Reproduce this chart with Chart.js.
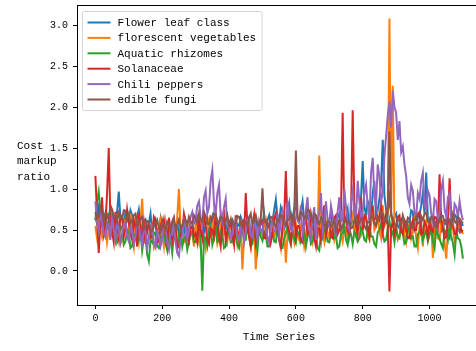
<!DOCTYPE html>
<html>
<head>
<meta charset="utf-8">
<style>
	html, body { margin: 0; padding: 0; overflow: hidden; background: #fff; }
	#wrap { position: relative; width: 482px; height: 351px; }
</style>
<script src="https://cdn.jsdelivr.net/npm/chart.js@4/dist/chart.umd.min.js"></script>
</head>
<body>
<div id="wrap"><canvas id="myChart" width="482" height="351"></canvas></div>
<script>
'use strict';

// time index, one sample every 5 steps
const timeSeries = Array.from({ length: 221 }, (_, i) => i * 5);

const xTickValues = [0, 200, 400, 600, 800, 1000];
const yTickValues = [0, 0.5, 1, 1.5, 2, 2.5, 3];

const seriesNames = [
	'Flower leaf class',
	'florescent vegetables',
	'Aquatic rhizomes',
	'Solanaceae',
	'Chili peppers',
	'edible fungi',
];

// one row = 100 time steps
const flowerLeaf = [
	0.65, 0.58, 0.78, 0.70, 0.55, 0.63, 0.70, 0.52, 0.62, 0.80, 0.74, 0.60, 0.58, 0.72, 0.97, 0.64, 0.66, 0.55, 0.72, 0.68,
	0.60, 0.74, 0.68, 0.50, 0.55, 0.66, 0.75, 0.57, 0.50, 0.61, 0.63, 0.48, 0.58, 0.70, 0.46, 0.55, 0.62, 0.44, 0.52, 0.64,
	0.48, 0.58, 0.57, 0.43, 0.44, 0.53, 0.60, 0.47, 0.50, 0.62, 0.41, 0.52, 0.55, 0.45, 0.62, 0.54, 0.47, 0.60, 0.58, 0.49,
	0.52, 0.63, 0.45, 0.55, 0.61, 0.47, 0.56, 0.64, 0.48, 0.57, 0.66, 0.51, 0.53, 0.42, 0.59, 0.68, 0.44, 0.56, 0.57, 0.50,
	0.50, 0.58, 0.62, 0.44, 0.46, 0.57, 0.55, 0.66, 0.60, 0.49, 0.42, 0.56, 0.58, 0.45, 0.51, 0.63, 0.64, 0.52, 0.48, 0.60,
	0.56, 0.70, 0.53, 0.62, 0.68, 0.57, 0.61, 0.74, 0.87, 0.65, 0.60, 0.78, 0.72, 0.58, 0.55, 0.69, 0.82, 0.60, 0.66, 0.75,
	0.78, 0.64, 0.62, 0.73, 0.85, 0.60, 0.58, 0.67, 0.70, 0.55, 0.52, 0.63, 0.66, 0.50, 0.45, 0.58, 0.60, 0.68, 0.50, 0.57,
	0.63, 0.72, 0.47, 0.55, 0.58, 0.66, 0.70, 0.52, 0.52, 0.61, 0.65, 0.75, 0.44, 0.58, 0.60, 0.83, 0.55, 0.67, 0.72, 0.90,
	1.34, 0.78, 0.68, 0.85, 0.80, 0.66, 0.95, 1.10, 0.62, 0.75, 0.88, 1.05, 1.60, 0.92, 0.75, 0.68, 0.90, 0.72, 0.58, 0.66,
	0.70, 0.55, 0.52, 0.63, 0.65, 0.58, 0.48, 0.60, 0.60, 0.74, 0.72, 0.50, 0.55, 0.66, 0.68, 0.80, 0.95, 0.70, 1.20, 0.64,
	0.62, 0.53, 0.45, 0.60, 0.58, 0.67, 0.70, 0.48, 0.50, 0.62, 0.63, 0.44, 0.40, 0.58, 0.56, 0.69, 0.66, 0.52, 0.48, 0.60,
	0.55,
];

const florescent = [
	0.55, 0.40, 0.68, 0.52, 0.42, 0.60, 0.60, 0.35, 0.50, 0.66, 0.72, 0.48, 0.45, 0.62, 0.58, 0.33, 0.38, 0.55, 0.63, 0.46,
	0.52, 0.70, 0.44, 0.30, 0.66, 0.50, 0.35, 0.58, 0.88, 0.45, 0.48, 0.36, 0.40, 0.55, 0.57, 0.28, 0.32, 0.47, 0.50, 0.62,
	0.45, 0.30, 0.60, 0.48, 0.28, 0.55, 0.52, 0.40, 0.42, 0.66, 1.00, 0.50, 0.55, 0.35, 0.38, 0.58, 0.62, 0.43, 0.46, 0.30,
	0.58, 0.45, 0.35, 0.60, 0.50, 0.38, 0.27, 0.52, 0.62, 0.42, 0.44, 0.70, 0.55, 0.33, 0.40, 0.56, 0.65, 0.45, 0.48, 0.36,
	0.52, 0.60, 0.38, 0.47, 0.60, 0.33, 0.45, 0.55, 0.02, 0.42, 0.56, 0.62, 0.42, 0.30, 0.50, 0.58, 0.02, 0.40, 0.58, 0.47,
	0.44, 0.55, 0.62, 0.36, 0.35, 0.50, 0.55, 0.42, 0.48, 0.63, 0.40, 0.28, 0.60, 0.50, 0.10, 0.45, 0.52, 0.62, 0.45, 0.35,
	0.58, 0.46, 0.38, 0.55, 0.50, 0.30, 0.42, 0.57, 0.62, 0.44, 0.35, 0.52, 0.55, 0.40, 1.41, 0.50, 0.46, 0.36, 0.60, 0.48,
	0.40, 0.58, 0.55, 0.38, 0.48, 0.62, 0.62, 0.45, 0.36, 0.54, 0.52, 0.40, 0.45, 0.66, 0.70, 0.48, 0.42, 0.60, 0.58, 0.44,
	0.50, 0.62, 0.65, 0.42, 0.38, 0.58, 0.72, 0.50, 0.55, 0.68, 0.48, 0.40, 0.80, 0.55, 0.60, 0.72, 3.08, 0.65, 2.26, 0.52,
	0.55, 0.38, 0.42, 0.60, 0.62, 0.45, 0.35, 0.52, 0.58, 0.40, 0.48, 0.63, 0.40, 0.28, 0.55, 0.47, 0.30, 0.58, 0.62, 0.42,
	0.45, 0.56, 0.16, 0.48, 0.55, 0.40, 0.38, 0.62, 0.60, 0.35, 0.15, 0.50, 0.48, 0.57, 0.52, 0.36, 0.40, 0.55, 0.58, 0.50,
	0.45,
];

const aquatic = [
	0.62, 0.85, 0.97, 0.72, 0.80, 0.50, 0.55, 0.70, 0.68, 0.42, 0.45, 0.60, 0.58, 0.35, 0.40, 0.55, 0.52, 0.32, 0.36, 0.50,
	0.48, 0.28, 0.30, 0.45, 0.44, 0.33, 0.38, 0.50, 0.25, 0.40, 0.42, 0.20, 0.12, 0.38, 0.35, 0.47, 0.46, 0.30, 0.28, 0.42,
	0.40, 0.50, 0.33, 0.25, 0.50, 0.38, 0.22, 0.45, 0.38, 0.30, 0.45, 0.52, 0.30, 0.40, 0.42, 0.26, 0.36, 0.48, 0.48, 0.35,
	0.35, 0.45, 0.52, 0.38, -0.24, 0.42, 0.40, 0.30, 0.46, 0.55, 0.32, 0.40, 0.55, 0.36, 0.38, 0.48, 0.44, 0.28, 0.30, 0.45,
	0.48, 0.35, 0.36, 0.50, 0.42, 0.32, 0.28, 0.45, 0.50, 0.38, 0.38, 0.55, 0.45, 0.30, 0.33, 0.48, 0.40, 0.25, 0.52, 0.42,
	0.37, 0.48, 0.44, 0.30, 0.30, 0.45, 0.48, 0.36, 0.35, 0.52, 0.42, 0.28, 0.28, 0.40, 0.46, 0.55, 0.38, 0.32, 0.50, 0.40,
	0.34, 0.48, 0.45, 0.35, 0.40, 0.52, 0.30, 0.42, 0.48, 0.33, 0.36, 0.50, 0.43, 0.28, 0.25, 0.45, 0.40, 0.52, 0.47, 0.36,
	0.35, 0.46, 0.50, 0.40, 0.42, 0.28, 0.30, 0.45, 0.46, 0.55, 0.38, 0.32, 0.52, 0.44, 0.33, 0.48, 0.44, 0.36, 0.40, 0.53,
	0.48, 0.38, 0.36, 0.50, 0.55, 0.42, 0.42, 0.33, 0.30, 0.47, 0.50, 0.58, 0.45, 0.36, 0.38, 0.52, 0.62, 0.44, 0.48, 0.35,
	0.52, 0.42, 0.40, 0.55, 0.46, 0.33, 0.35, 0.48, 0.55, 0.40, 0.42, 0.30, 0.30, 0.45, 0.48, 0.58, 0.38, 0.44, 0.50, 0.36,
	0.44, 0.52, 0.36, 0.28, 0.52, 0.45, 0.40, 0.33, 0.28, 0.50, 0.46, 0.38, 0.55, 0.42, 0.34, 0.20, 0.48, 0.40, 0.38, 0.30,
	0.15,
];

const solanaceae = [
	1.16, 0.70, 0.22, 0.60, 0.90, 0.45, 0.55, 0.95, 1.50, 0.62, 0.48, 0.35, 0.72, 0.55, 0.40, 0.68, 0.65, 0.42, 0.52, 0.75,
	0.60, 0.45, 0.38, 0.62, 0.55, 0.30, 0.70, 0.48, 0.45, 0.58, 0.33, 0.52, 0.58, 0.40, 0.42, 0.66, 0.62, 0.35, 0.36, 0.55,
	0.50, 0.62, 0.44, 0.33, 0.65, 0.50, 0.38, 0.58, 0.55, 0.28, 0.30, 0.45, 0.48, 0.70, 0.60, 0.40, 0.35, 0.55, 0.52, 0.42,
	0.46, 0.35, 0.62, 0.50, 0.40, 0.68, 0.55, 0.38, 0.33, 0.52, 0.50, 0.42, 0.70, 0.55, 0.42, 0.30, 0.58, 0.75, 0.37, 0.48,
	0.53, 0.62, 0.45, 0.32, 0.68, 0.50, 0.38, 0.58, 0.60, 0.42, 0.95, 0.55, 0.42, 0.30, 0.55, 0.68, 0.35, 0.48, 0.50, 0.62,
	0.62, 0.40, 0.40, 0.55, 0.56, 0.35, 0.45, 0.63, 0.70, 0.48, 0.38, 0.30, 0.52, 0.66, 1.22, 0.55, 0.48, 0.36, 0.60, 0.72,
	0.42, 0.55, 0.55, 0.38, 0.35, 0.60, 0.62, 0.45, 0.48, 0.70, 0.58, 0.40, 0.30, 0.52, 0.52, 0.38, 0.65, 0.80, 0.44, 0.56,
	0.56, 0.42, 0.40, 0.65, 0.68, 0.45, 0.50, 0.75, 1.93, 0.60, 0.62, 0.48, 0.45, 0.70, 1.96, 0.82, 0.58, 0.45, 0.72, 0.90,
	0.50, 0.68, 0.65, 0.52, 0.42, 0.75, 0.78, 0.58, 0.55, 0.66, 0.62, 0.85, 0.48, 0.60, 0.70, 0.55, -0.25, 0.52, 0.60, 0.45,
	0.52, 0.66, 0.68, 0.48, 0.45, 0.62, 0.58, 0.40, 0.40, 0.55, 0.62, 0.50, 0.50, 0.70, 0.72, 0.45, 0.46, 0.60, 0.55, 0.42,
	0.60, 0.50, 0.48, 0.66, 0.65, 0.55, 1.18, 0.62, 0.52, 0.40, 0.42, 0.58, 1.13, 0.65, 0.58, 0.45, 0.45, 0.60, 0.62, 0.48,
	0.50,
];

const chiliPeppers = [
	0.85, 0.60, 0.48, 0.70, 0.62, 0.45, 0.41, 0.58, 0.55, 0.38, 0.70, 0.50, 0.38, 0.62, 0.52, 0.35, 0.45, 0.57, 0.60, 0.42,
	0.36, 0.55, 0.50, 0.32, 0.42, 0.60, 0.58, 0.40, 0.33, 0.52, 0.47, 0.28, 0.40, 0.56, 0.55, 0.35, 0.29, 0.48, 0.44, 0.30,
	0.38, 0.55, 0.51, 0.35, 0.26, 0.48, 0.45, 0.60, 0.35, 0.22, 0.18, 0.40, 0.42, 0.62, 0.55, 0.40, 0.48, 0.66, 0.72, 0.58,
	0.62, 0.80, 0.85, 0.65, 0.55, 0.90, 0.98, 0.70, 0.78, 1.10, 1.23, 0.82, 0.70, 0.95, 1.05, 0.68, 0.60, 0.78, 0.88, 0.55,
	0.52, 0.40, 0.45, 0.60, 0.63, 0.42, 0.38, 0.55, 0.57, 0.35, 0.48, 0.62, 0.66, 0.45, 0.41, 0.58, 0.55, 0.38, 0.60, 0.50,
	0.47, 0.65, 0.58, 0.40, 0.35, 0.55, 0.62, 0.48, 0.50, 0.70, 0.44, 0.60, 0.72, 0.52, 0.55, 0.85, 0.65, 0.50, 0.48, 0.75,
	0.97, 0.62, 0.58, 0.80, 0.44, 0.55, 0.75, 0.90, 0.52, 0.40, 0.63, 0.78, 0.38, 0.60, 0.70, 0.95, 0.47, 0.58, 0.85, 0.62,
	0.55, 0.80, 0.68, 0.50, 0.45, 0.72, 0.90, 0.60, 0.62, 1.00, 0.78, 0.55, 0.50, 0.85, 0.98, 0.70, 0.66, 1.10, 0.85, 0.62,
	0.72, 0.95, 1.05, 0.80, 0.60, 1.20, 1.38, 0.90, 0.80, 1.30, 1.15, 0.85, 0.95, 1.40, 1.65, 1.90, 2.07, 1.75, 2.20, 2.00,
	1.93, 1.60, 1.83, 1.45, 1.52, 1.30, 1.16, 0.90, 0.82, 1.05, 0.98, 0.72, 0.65, 0.95, 0.88, 1.10, 1.20, 0.80, 0.75, 0.98,
	0.92, 0.70, 0.60, 0.88, 0.85, 0.62, 0.70, 1.00, 1.10, 0.75, 0.66, 0.90, 0.95, 0.60, 0.58, 0.82, 0.78, 0.65, 0.85, 0.70,
	0.62,
];

const edibleFungi = [
	0.72, 0.64, 0.66, 0.78, 0.74, 0.62, 0.70, 0.67, 0.63, 0.76, 0.75, 0.65, 0.68, 0.60, 0.71, 0.66, 0.64, 0.74, 0.73, 0.62,
	0.69, 0.58, 0.62, 0.68, 0.70, 0.55, 0.58, 0.64, 0.66, 0.50, 0.52, 0.61, 0.60, 0.48, 0.49, 0.56, 0.57, 0.62, 0.53, 0.47,
	0.62, 0.54, 0.50, 0.60, 0.56, 0.49, 0.59, 0.65, 0.51, 0.57, 0.63, 0.52, 0.55, 0.62, 0.61, 0.56, 0.66, 0.60, 0.58, 0.68,
	0.64, 0.58, 0.70, 0.62, 0.60, 0.72, 0.67, 0.58, 0.57, 0.66, 0.63, 0.70, 0.69, 0.60, 0.59, 0.66, 0.65, 0.57, 0.61, 0.68,
	0.56, 0.63, 0.62, 0.55, 0.58, 0.67, 0.66, 0.58, 0.53, 0.62, 0.60, 0.55, 0.64, 0.70, 0.57, 0.61, 0.68, 0.58, 0.55, 0.64,
	1.01, 0.60, 0.62, 0.55, 0.58, 0.66, 0.65, 0.57, 0.54, 0.63, 0.61, 0.68, 0.67, 0.58, 0.56, 0.62, 0.63, 0.70, 0.59, 0.66,
	1.47, 0.65, 0.62, 0.72, 0.70, 0.64, 0.66, 0.75, 0.74, 0.66, 0.61, 0.70, 0.68, 0.60, 0.57, 0.65, 0.63, 0.55, 0.52, 0.60,
	0.60, 0.54, 0.58, 0.62, 0.49, 0.56, 0.62, 0.50, 0.55, 0.63, 0.64, 0.58, 0.60, 0.52, 0.53, 0.61, 0.66, 0.57, 0.58, 0.64,
	0.63, 0.55, 0.51, 0.60, 0.59, 0.66, 0.67, 0.58, 0.56, 0.65, 0.62, 0.72, 0.70, 0.62, 0.60, 0.75, 1.70, 0.68, 0.64, 0.58,
	0.55, 0.63, 0.61, 0.56, 0.68, 0.60, 0.57, 0.65, 0.63, 0.55, 0.52, 0.61, 0.66, 0.58, 0.59, 0.67, 0.62, 0.70, 0.71, 0.60,
	0.58, 0.66, 0.65, 0.57, 0.54, 0.62, 0.60, 0.68, 0.67, 0.59, 0.57, 0.64, 0.63, 0.55, 0.69, 0.61, 0.58, 0.66, 0.64, 0.57,
	0.60,
];

const seriesValues = [flowerLeaf, florescent, aquatic, solanaceae, chiliPeppers, edibleFungi];
const seriesColors = ['#1f77b4', '#ff7f0e', '#2ca02c', '#d62728', '#9467bd', '#8c564b'];

const FONT = "'Liberation Mono', 'DejaVu Sans Mono', monospace";

// y label written horizontally on three lines, as in the source
const yLabelPlugin = {
	id: 'yLabel',
	afterDraw(chart) {
		const ctx = chart.ctx;
		ctx.save();
		ctx.font = '11px ' + FONT;
		ctx.fillStyle = '#000';
		ctx.textAlign = 'left';
		ctx.textBaseline = 'middle';
		['Cost', 'markup', 'ratio'].forEach((line, i) => {
			ctx.fillText(line, 17, 146 + i * 15.5);
		});
		ctx.restore();
	},
};

// top spine + legend box inside the axes
const framePlugin = {
	id: 'frame',
	afterDatasetsDraw(chart) {
		const { ctx, chartArea } = chart;
		ctx.save();
		ctx.strokeStyle = '#000';
		ctx.lineWidth = 1;
		ctx.beginPath();
		ctx.moveTo(chartArea.left, chartArea.top + 0.5);
		ctx.lineTo(chartArea.right, chartArea.top + 0.5);
		ctx.lineTo(chartArea.right - 0.5, chartArea.bottom);
		ctx.stroke();

		ctx.font = '11px ' + FONT;
		const widths = chart.data.datasets.map((d) => ctx.measureText(d.label).width);
		const boxX = chartArea.left + 5.5;
		const boxY = chartArea.top + 6.5;
		const boxW = 35 + Math.max(...widths) + 6;
		const boxH = 99;
		ctx.fillStyle = 'rgba(255,255,255,0.8)';
		ctx.strokeStyle = '#d4d4d4';
		ctx.beginPath();
		ctx.roundRect(boxX, boxY, boxW, boxH, 2);
		ctx.fill();
		ctx.stroke();

		ctx.textAlign = 'left';
		ctx.textBaseline = 'middle';
		chart.data.datasets.forEach((d, i) => {
			const y = boxY + 11 + i * 15.4;
			ctx.strokeStyle = d.borderColor;
			ctx.lineWidth = 2;
			ctx.beginPath();
			ctx.moveTo(boxX + 5, y);
			ctx.lineTo(boxX + 28, y);
			ctx.stroke();
			ctx.fillStyle = '#000';
			ctx.fillText(d.label, boxX + 35, y + 0.5);
		});
		ctx.restore();
	},
};

generateGraph();

function generateGraph() {
	const datasets = seriesNames.map((name, i) => ({
		label: name,
		data: seriesValues[i].map((y, j) => ({ x: timeSeries[j], y })),
		borderColor: seriesColors[i],
		backgroundColor: seriesColors[i],
		borderWidth: 2,
		pointRadius: 0,
		tension: 0,
		// matplotlib draws the last series on top
		order: seriesNames.length - 1 - i,
	}));

	displayGraph(datasets);
}

function displayGraph(datasets) {
	const ctx = document.getElementById('myChart').getContext('2d');
	const myChart = new Chart(ctx, {
		type: 'line',
		data: { datasets },
		options: {
			responsive: false,
			animation: false,
			devicePixelRatio: 1,
			layout: { padding: { left: 0, top: 5, right: 1, bottom: 0 } },
			plugins: {
				legend: { display: false },
				tooltip: { enabled: false },
			},
			scales: {
				x: {
					type: 'linear',
					min: -55,
					max: 1154,
					afterBuildTicks(scale) {
						scale.ticks = xTickValues.map((v) => ({ value: v }));
					},
					afterFit(scale) {
						scale.height = 46;
						scale.paddingLeft = 0;
						scale.paddingRight = 0;
					},
					grid: { drawOnChartArea: false, tickLength: 4, color: '#000' },
					border: { color: '#000', width: 1 },
					ticks: {
						color: '#000',
						font: { family: FONT, size: 10 },
						padding: 3,
						maxRotation: 0,
						callback: (v) => String(v),
					},
					title: {
						display: true,
						text: 'Time Series',
						color: '#000',
						font: { family: FONT, size: 11 },
						padding: { top: 2, bottom: 7 },
					},
				},
				y: {
					type: 'linear',
					min: -0.415,
					max: 3.245,
					afterBuildTicks(scale) {
						scale.ticks = yTickValues.map((v) => ({ value: v }));
					},
					afterFit(scale) {
						scale.width = 77;
						scale.paddingTop = 0;
						scale.paddingBottom = 0;
					},
					grid: { drawOnChartArea: false, tickLength: 4, color: '#000' },
					border: { color: '#000', width: 1 },
					ticks: {
						color: '#000',
						font: { family: FONT, size: 10 },
						padding: 5,
						callback: (v) => v.toFixed(1),
					},
				},
			},
		},
		plugins: [yLabelPlugin, framePlugin],
	});
}
</script>
</body>
</html>
